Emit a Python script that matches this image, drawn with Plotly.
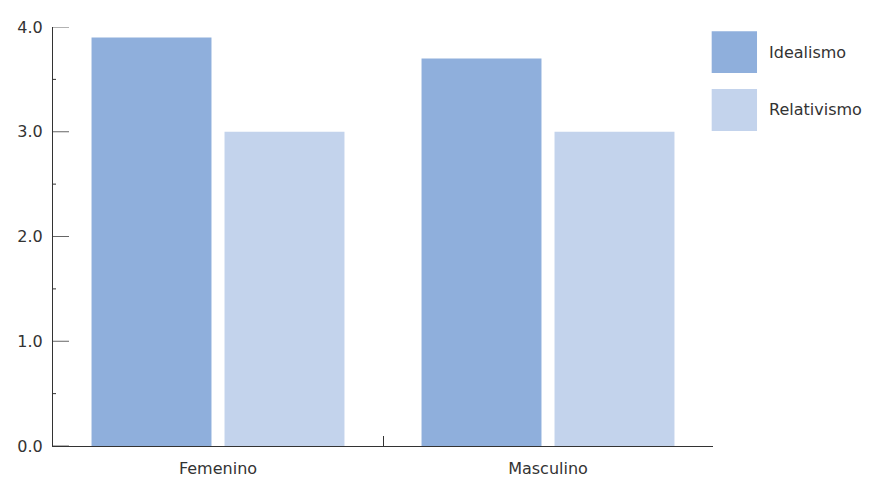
import plotly.graph_objects as go

# Data
categories = ["Femenino", "Masculino"]
series_names = ["Idealismo", "Relativismo"]
idealismo = [3.9, 3.7]
relativismo = [3.0, 3.0]
y_ticks = [0, 1, 2, 3, 4]
y_minor_ticks = [0.5, 1.5, 2.5, 3.5]

colors = ["#8FAFDC", "#C3D3EC"]
FONT = "DejaVu Sans"
TEXT_COLOR = "#333333"
AXIS_COLOR = "#333333"

fig = go.Figure()

for name, values, color in zip(series_names, [idealismo, relativismo], colors):
    fig.add_trace(go.Bar(
        x=categories,
        y=values,
        name=name,
        marker=dict(color=color, line=dict(width=0)),
        hovertemplate='<b>%{x}</b><br>' + name + ': %{y:.1f}<extra></extra>'
    ))

# y ticks pointing into the plot (major long, minor short)
for v in y_ticks:
    fig.add_shape(type="line", xref="paper", yref="y", x0=0, x1=16 / 660, y0=v, y1=v,
                  line=dict(color="#666666", width=1), layer="above")
for v in y_minor_ticks:
    fig.add_shape(type="line", xref="paper", yref="y", x0=0, x1=3 / 660, y0=v, y1=v,
                  line=dict(color=AXIS_COLOR, width=1), layer="above")

# Manual legend with large square swatches
swatch_y = [(0.990, 0.890), (0.852, 0.752)]
for name, color, (y1, y0) in zip(series_names, colors, swatch_y):
    fig.add_shape(type="rect", xref="paper", yref="paper",
                  x0=0.998, x1=1.0667, y0=y0, y1=y1,
                  fillcolor=color, line=dict(width=0))
    fig.add_annotation(text=name, xref="paper", yref="paper",
                       x=1.0818, y=(y0 + y1) / 2, xanchor="left", yanchor="middle",
                       showarrow=False, font=dict(family=FONT, size=16, color=TEXT_COLOR))

# page body adds an 8px offset, so the figure is a bit smaller than the window
fig.update_layout(
    width=865,
    height=469,
    margin=dict(l=45, r=160, t=19, b=31),
    plot_bgcolor="white",
    paper_bgcolor="white",
    barmode="group",
    bargap=0.194,
    bargroupgap=0.098,
    showlegend=False,
    font=dict(family=FONT, size=16, color=TEXT_COLOR),
    xaxis=dict(
        automargin=False,
        showline=True, linecolor=AXIS_COLOR, linewidth=1,
        ticks="inside", tickson="boundaries", ticklen=10, tickcolor=AXIS_COLOR,
        ticklabelstandoff=8,
        showgrid=False, zeroline=False,
    ),
    yaxis=dict(
        automargin=False,
        range=[0, 4], tickvals=y_ticks, tickformat=".1f",
        showline=True, linecolor=AXIS_COLOR, linewidth=1,
        ticks="",
        ticklabelstandoff=6,
        showgrid=False, zeroline=False,
    ),
)

fig.write_html("out.html")
